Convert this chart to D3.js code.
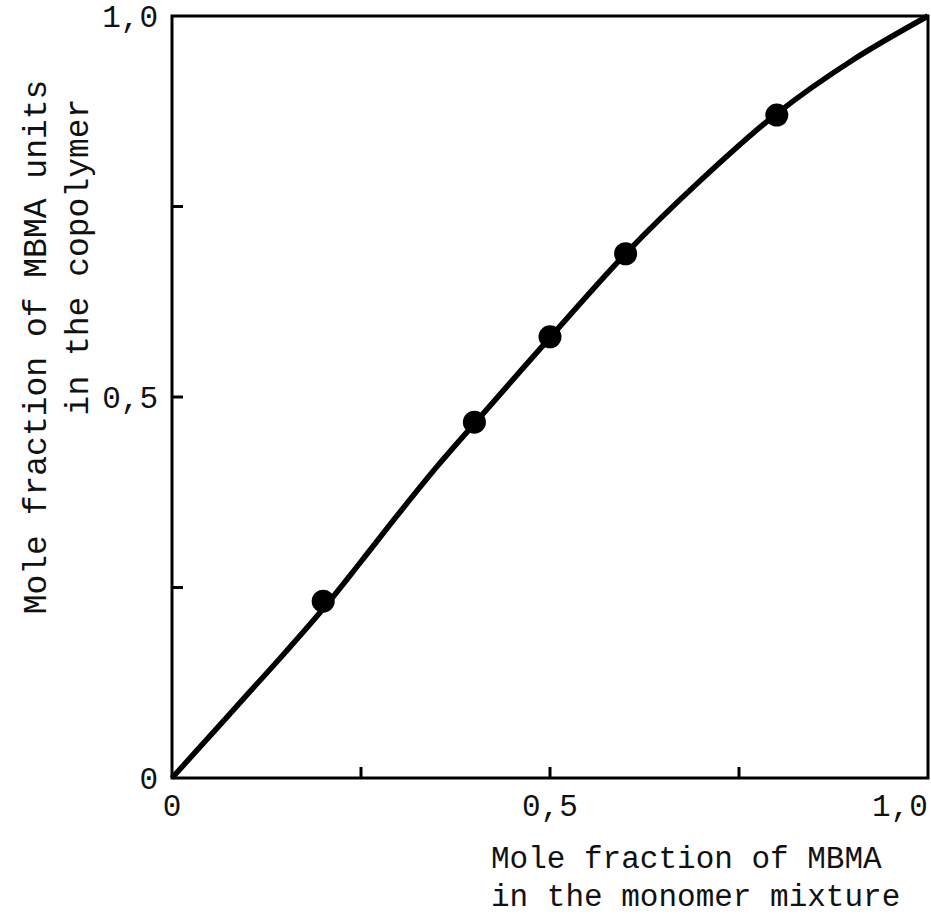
<!DOCTYPE html>
<html>
<head>
<meta charset="utf-8">
<script src="https://cdn.jsdelivr.net/npm/d3@7"></script>
<style>
  body { margin: 0; background: #fff; }
  text { font-family: "Liberation Mono", "DejaVu Sans Mono", monospace; fill: #111; }
</style>
</head>
<body>
<div id="canvas"></div>
<script>
"use strict"

/* Data */
let monomerX = [0.2, 0.4, 0.5, 0.6, 0.8];
let copolymerY = [0.232, 0.467, 0.579, 0.688, 0.870];

// fitted composition curve
let curveX = [0, 0.05, 0.1, 0.15, 0.2, 0.25, 0.3, 0.35, 0.4, 0.5, 0.6, 0.7, 0.8, 0.9, 1.0];
let curveY = [0, 0.055, 0.11, 0.165, 0.222, 0.284, 0.347, 0.408, 0.465, 0.578, 0.688, 0.785, 0.872, 0.942, 1.0];

let xTickLabels = ["0", "0,5", "1,0"];
let yTickLabels = ["0", "0,5", "1,0"];

/* Drawing config */
let svgWidth = 931;
let svgHeight = 915;
let plotLeft = 172, plotRight = 928, plotTop = 16, plotBottom = 778;

let svg = d3.select("#canvas")
    .append("svg")
    .attr("width", svgWidth)
    .attr("height", svgHeight);

let xScale = d3.scaleLinear().domain([0, 1]).range([plotLeft, plotRight]);
let yScale = d3.scaleLinear().domain([0, 1]).range([plotBottom, plotTop]);

/* frame */
svg.append("rect")
    .attr("x", plotLeft)
    .attr("y", plotTop)
    .attr("width", plotRight - plotLeft)
    .attr("height", plotBottom - plotTop)
    .attr("fill", "none")
    .attr("stroke", "#000")
    .attr("stroke-width", 3);

/* inward ticks */
let tickVals = [0.25, 0.5, 0.75];
svg.selectAll(".xtick")
    .data(tickVals)
    .join("line")
    .attr("class", "xtick")
    .attr("x1", d => xScale(d))
    .attr("x2", d => xScale(d))
    .attr("y1", plotBottom)
    .attr("y2", plotBottom - 11)
    .attr("stroke", "#000")
    .attr("stroke-width", 3);

svg.selectAll(".ytick")
    .data(tickVals)
    .join("line")
    .attr("class", "ytick")
    .attr("x1", plotLeft)
    .attr("x2", plotLeft + 11)
    .attr("y1", d => yScale(d))
    .attr("y2", d => yScale(d))
    .attr("stroke", "#000")
    .attr("stroke-width", 3);

/* tick labels */
let labelVals = [0, 0.5, 1];
svg.selectAll(".xlab")
    .data(labelVals)
    .join("text")
    .attr("class", "xlab")
    .attr("x", (d, i) => i == 2 ? xScale(d) - 28 : xScale(d))
    .attr("y", plotBottom + 38)
    .attr("text-anchor", "middle")
    .attr("font-size", 31)
    .text((d, i) => xTickLabels[i]);

svg.selectAll(".ylab")
    .data(labelVals)
    .join("text")
    .attr("class", "ylab")
    .attr("x", plotLeft - 14)
    .attr("y", d => yScale(d) + 11)
    .attr("text-anchor", "end")
    .attr("font-size", 31)
    .text((d, i) => yTickLabels[i]);

/* curve */
let line = d3.line()
    .x(d => xScale(d[0]))
    .y(d => yScale(d[1]))
    .curve(d3.curveCatmullRom);

svg.append("path")
    .datum(d3.zip(curveX, curveY))
    .attr("d", line)
    .attr("fill", "none")
    .attr("stroke", "#000")
    .attr("stroke-width", 5.5);

/* data points */
svg.selectAll("circle")
    .data(d3.zip(monomerX, copolymerY))
    .join("circle")
    .attr("cx", d => xScale(d[0]))
    .attr("cy", d => yScale(d[1]))
    .attr("r", 11.5)
    .attr("fill", "#000");

/* axis titles */
svg.append("text")
    .attr("x", 491)
    .attr("y", 868)
    .attr("font-size", 31)
    .text("Mole fraction of MBMA");

svg.append("text")
    .attr("x", 491)
    .attr("y", 906)
    .attr("font-size", 31)
    .text("in the monomer mixture");

svg.append("text")
    .attr("transform", "translate(46,347) rotate(-90)")
    .attr("text-anchor", "middle")
    .attr("font-size", 33)
    .text("Mole fraction of MBMA units");

svg.append("text")
    .attr("transform", "translate(88,257) rotate(-90)")
    .attr("text-anchor", "middle")
    .attr("font-size", 33)
    .text("in the copolymer");
</script>
</body>
</html>
